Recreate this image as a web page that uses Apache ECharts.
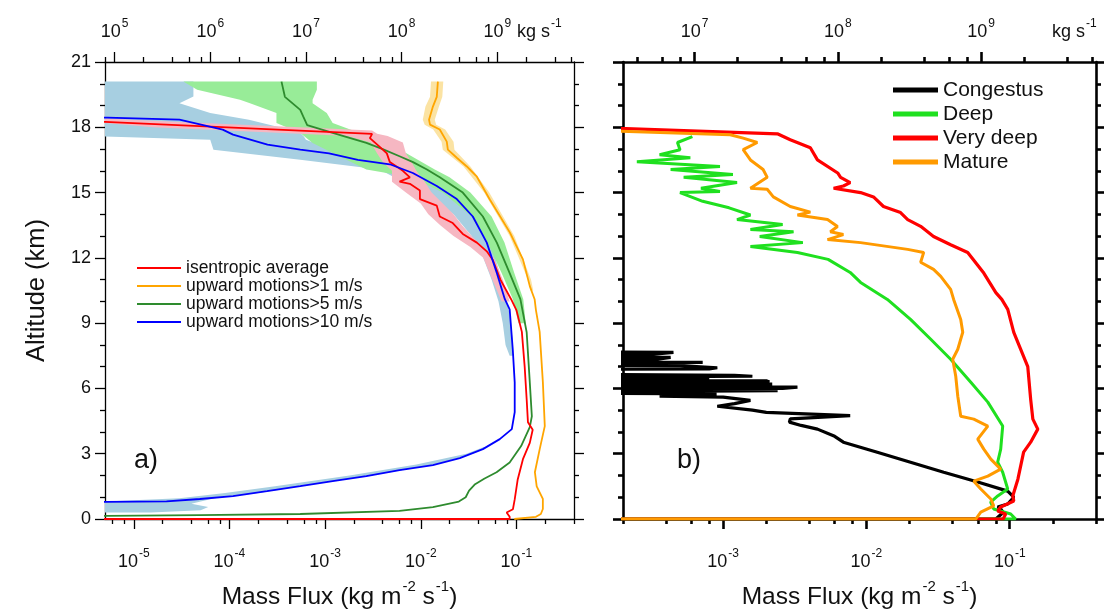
<!DOCTYPE html>
<html><head><meta charset="utf-8">
<script src="https://cdn.jsdelivr.net/npm/echarts@6/dist/echarts.min.js"></script>
<style>html,body{margin:0;padding:0;background:#fff}#c{width:1104px;height:615px}</style>
</head><body><div id="c"></div>
<script>
// ---------- DATA : [altitude km, mass flux kg m^-2 s^-1] ----------
const A_RED = [[0,1e-9],[0,0.085],[0.1,0.085],[0.3,0.079],[0.45,0.092],[0.9,0.096],[1.8,0.103],[2.75,0.117],[3.5,0.138],[4.1,0.148],[4.45,0.132],[5.5,0.128],[7.0,0.122],[8.6,0.114],[9.6,0.1],[10.1,0.088],[11.0,0.068],[11.9,0.0567],[12.3,0.049],[12.7,0.0386],[13.1,0.0275],[13.6,0.0216],[13.9,0.0158],[14.4,0.0147],[14.7,0.0098],[15.1,0.0098],[15.4,0.0077],[15.5,0.006],[15.7,0.0077],[16.0,0.0065],[16.4,0.00475],[16.8,0.00442],[17.1,0.00373],[17.5,0.00294],[17.7,0.0031],[18.25,5e-6],[18.35,1e-6]];
const A_ORANGE = [[0,0.095],[0.1,0.16],[0.23,0.18],[0.46,0.189],[0.92,0.189],[1.5,0.163],[2.15,0.156],[3.2,0.175],[4.27,0.198],[6.3,0.189],[8.6,0.175],[9.6,0.16],[10.1,0.155],[10.7,0.138],[11.93,0.117],[13.17,0.0853],[14.68,0.0527],[15.73,0.0386],[16.06,0.0326],[16.2,0.0303],[16.6,0.0238],[16.97,0.0192],[17.34,0.0187],[17.9,0.0158],[18.12,0.0125],[18.35,0.0122],[18.95,0.0134],[19.4,0.0147],[20.1,0.0151]];
const A_GREEN = [[0.1,1e-7],[0.14,5.2e-6],[0.18,4.9e-5],[0.23,5.5e-4],[0.37,6.0e-3],[0.55,0.0134],[0.8,0.025],[1.0,0.0295],[1.3,0.032],[1.6,0.037],[1.85,0.046],[2.15,0.062],[2.6,0.085],[3.35,0.112],[4.22,0.138],[4.72,0.145],[6.28,0.138],[8.58,0.128],[10.1,0.11],[11.3,0.085],[12.7,0.0624],[13.9,0.0446],[15.0,0.0275],[15.7,0.0158],[16.06,0.0116],[16.4,0.0083],[16.67,0.006],[17.0,0.004],[17.28,0.0027],[17.74,0.0012],[18.1,6.5e-4],[18.5,5.9e-4],[18.8,5.5e-4],[19.4,3.8e-4],[20.1,3.5e-4]];
const A_BLUE = [[0.76,1e-6],[0.79,5.2e-6],[0.81,2.2e-5],[0.92,4.9e-5],[1.05,1.09e-4],[1.28,2.47e-4],[1.51,5.5e-4],[1.74,1.2e-3],[1.97,2.7e-3],[2.25,6.0e-3],[2.48,0.0134],[2.8,0.0256],[3.21,0.0446],[3.67,0.067],[4.13,0.0895],[4.91,0.096],[6.28,0.096],[7.8,0.0916],[9.63,0.085],[10.1,0.0757],[11.3,0.0624],[12.7,0.049],[13.9,0.035],[14.7,0.0238],[15.3,0.0147],[15.9,0.00826],[16.3,0.00475],[16.5,0.0022],[16.8,0.0011],[16.97,5.5e-4],[17.2,2.5e-4],[17.66,1.09e-4],[17.89,8.5e-5],[18.35,3.0e-5],[18.44,5.3e-6],[18.5,1e-6]];

// spread bands : [altitude km, low flux, high flux]
const A_BAND_BLUE = [[0.3,1e-7,1.5e-5],[0.4,1e-7,5e-5],[0.55,1e-7,6e-5],[0.7,1e-7,4e-5],[0.8,1e-7,5e-5],[0.95,3e-5,7e-5],[1.2,9e-5,2e-4],[1.5,3e-4,5.5e-4],[2.0,1.8e-3,3e-3],[2.5,0.009,0.014],[3.0,0.03,0.035],[3.3,0.045,0.05]];
const A_BAND_BLUE_UP = [[7.5,0.085,0.092],[8.0,0.077,0.092],[9.0,0.072,0.088],[10.0,0.065,0.08],[11.0,0.055,0.07],[12.0,0.045,0.06],[13.0,0.034,0.05],[14.0,0.022,0.037],[15.0,0.011,0.023],[15.5,0.0065,0.016],[16.06,0.0037,0.009],[16.51,5.5e-4,3.5e-3],[16.97,6.8e-5,1.2e-3],[17.43,6.3e-5,6.3e-4],[17.58,1e-7,6.0e-4],[17.74,1e-7,5.5e-4],[18.04,1e-7,3.1e-4],[18.35,1e-7,1.6e-4],[18.66,1e-7,6.3e-5],[19.11,1e-7,3.0e-5],[19.42,1e-7,4.2e-5],[20.1,1e-7,4.2e-5]];
const A_BAND_GREEN = [[9.0,0.105,0.125],[10.1,0.092,0.118],[11.3,0.07,0.095],[12.7,0.05,0.075],[13.9,0.034,0.055],[15.0,0.017,0.033],[15.7,0.008,0.02],[16.06,2.7e-3,0.014],[16.82,1.2e-3,7e-3],[17.28,7.4e-4,3.7e-3],[17.74,5.5e-4,2.3e-3],[18.2,3.1e-4,1.2e-3],[18.66,3.1e-4,1.04e-3],[19.11,1.64e-4,7.4e-4],[19.27,1.29e-4,7.4e-4],[19.72,4.6e-5,8.2e-4],[20.1,3.3e-5,8.2e-4]];
const A_BAND_PINK = [[10.0,0.07,0.085],[11.0,0.056,0.072],[12.0,0.045,0.058],[12.5,0.033,0.045],[13.0,0.022,0.034],[13.5,0.016,0.027],[14.0,0.012,0.022],[14.5,0.01,0.017],[15.0,0.007,0.013],[15.5,0.005,0.011],[16.0,0.005,0.009],[16.4,0.004,0.008],[16.8,0.0035,0.007],[17.3,0.003,0.0065],[17.6,1.7e-3,4.5e-3],[17.7,5.4e-4,3.5e-3],[17.85,9.3e-5,3.1e-3],[18.0,1.6e-5,5.4e-4],[18.2,1e-7,5.2e-5],[18.4,1e-7,5e-6]];
const A_BAND_ORANGE = [[10.5,0.14,0.15],[11.0,0.132,0.142],[13.0,0.085,0.095],[15.0,0.046,0.052],[16.2,0.028,0.033],[16.97,0.017,0.0225],[17.34,0.0165,0.022],[17.9,0.0135,0.018],[18.12,0.011,0.0145],[18.35,0.0105,0.014],[18.95,0.0112,0.0155],[19.4,0.0125,0.0168],[20.1,0.0128,0.0172]];

const B_CONGESTUS = [[0,1e-9],[0,0.08],[0.3,0.09],[0.46,0.0865],[0.55,0.0824],[0.69,0.0968],[1.0,0.1067],[1.28,0.0968],[1.7,0.0598],[2.15,0.0346],[2.61,0.0203],[3.07,0.0119],[3.53,0.0069],[3.8,0.006],[4.13,0.00455],[4.3,0.0035],[4.45,0.0029],[4.6,0.00294],[4.75,0.0077],[4.9,0.002],[5.0,0.0016],[5.18,0.00091],[5.3,0.0012],[5.45,0.00155],[5.6,0.001],[5.64,0.00036],[5.75,0.0009],[5.8,1e-5],[5.9,0.0024],[5.95,1e-5],[6.0,0.0026],[6.06,0.0033],[6.1,1e-5],[6.15,0.0012],[6.2,0.0022],[6.25,1e-5],[6.3,0.0021],[6.35,0.002],[6.4,1e-5],[6.42,0.0008],[6.5,1e-5],[6.56,0.0016],[6.6,0.0012],[6.7,1e-5],[6.85,1e-5],[6.9,0.0008],[6.95,0.00091],[7.05,0.0005],[7.1,1e-5],[7.2,0.00072],[7.25,1e-5],[7.35,0.00035],[7.43,0.00043],[7.5,1e-5],[7.55,0.0003],[7.66,0.00045],[7.7,1e-5]];
const B_DEEP = [[0,1e-9],[0,0.11],[0.09,0.11],[0.23,0.1016],[0.46,0.0773],[0.78,0.0736],[1.06,0.0824],[1.38,0.0968],[2.15,0.0893],[2.61,0.0824],[3.21,0.0865],[4.27,0.0893],[5.37,0.0703],[6.28,0.0535],[7.34,0.0387],[8.26,0.0281],[9.17,0.0203],[10.09,0.014],[10.87,0.0091],[11.33,0.0077],[11.93,0.0054],[12.25,0.0033],[12.52,0.00155],[12.7,0.0036],[12.98,0.0018],[13.2,0.0031],[13.3,0.00155],[13.53,0.0026],[13.76,0.00125],[13.97,0.00155],[14.3,0.0011],[14.6,0.00072],[15.0,0.0005],[15.05,0.00095],[15.2,0.0007],[15.46,0.00125],[15.7,0.00053],[15.83,0.00117],[16.06,0.00043],[16.2,0.00095],[16.42,0.00025],[16.6,0.00059],[16.74,0.00036],[16.97,0.0005],[17.3,0.00048],[17.57,0.00061]];
const B_VERYDEEP = [[0,1e-9],[0,0.09],[0.05,0.0905],[0.23,0.0937],[0.37,0.0824],[0.55,0.0865],[0.83,0.1067],[1.06,0.105],[1.83,0.114],[3.07,0.125],[3.53,0.14],[4.13,0.157],[4.59,0.145],[5.5,0.14],[7.0,0.1336],[8.58,0.1067],[9.63,0.0969],[10.09,0.088],[10.4,0.08],[11.3,0.0659],[12.25,0.0509],[12.6,0.0387],[12.98,0.0294],[13.45,0.0239],[13.76,0.0194],[14.08,0.0173],[14.36,0.01315],[14.8,0.0112],[15.0,0.0091],[15.2,0.0059],[15.3,0.0069],[15.46,0.0077],[15.7,0.0066],[15.9,0.0063],[16.5,0.00455],[17.06,0.00406],[17.43,0.00294],[17.7,0.00239],[17.94,2.1e-4],[18.0,1e-5]];
const B_MATURE = [[0,1e-9],[0,0.058],[0.09,0.0598],[0.32,0.0628],[0.6,0.0773],[0.92,0.0738],[1.38,0.0628],[1.74,0.0561],[1.97,0.0703],[2.29,0.0865],[2.75,0.0738],[3.21,0.0659],[3.67,0.0598],[4.27,0.0703],[4.59,0.0561],[4.72,0.0455],[5.64,0.0434],[6.56,0.042],[7.34,0.04],[7.8,0.0434],[8.58,0.047],[9.17,0.0455],[10.09,0.0406],[10.55,0.0387],[11.15,0.033],[11.47,0.0294],[11.8,0.0239],[12.25,0.0251],[12.39,0.0194],[12.7,0.0091],[12.84,0.00535],[13.07,0.0069],[13.2,0.0056],[13.44,0.00628],[13.76,0.00535],[13.97,0.0033],[14.1,0.00406],[14.36,0.00294],[14.8,0.00224],[15.15,0.00203],[15.2,0.00155],[15.7,0.00203],[16.06,0.0019],[16.5,0.00155],[16.97,0.00138],[17.3,0.00173],[17.5,0.00138],[17.66,0.00112],[17.82,1.9e-4],[17.9,1e-5]];

// ---------- AXES / TICK LABELS ----------
const A_RANGE = [5e-6, 0.4];
const B_RANGE = [2e-4, 0.4];
const TOP_SHIFT = 10.2;            // decades between kg m^-2 s^-1 and kg s^-1 scales
const A_BOTTOM_DECADES = [-5,-4,-3,-2,-1];
const A_TOP_DECADES = [5,6,7,8,9];
const B_BOTTOM_DECADES = [-3,-2,-1];
const B_TOP_DECADES = [7,8,9];
const MINOR_MULTIPLIERS = [2,4,6,8];
const ALT_MIN = 0, ALT_MAX = 21, ALT_STEP = 3;

const NAMES_A = ['isentropic average','upward motions>1 m/s','upward motions>5 m/s','upward motions>10 m/s'];
const NAMES_B = ['Congestus','Deep','Very deep','Mature'];

// ---------- BUILD ----------
const FONT = '"Liberation Sans", Arial, Helvetica, sans-serif';
const INK = '#111';
const L = Math.log10;

function minors(min, max) {
  const out = [];
  for (let n = Math.floor(min) - 1; n <= Math.ceil(max); n++) {
    MINOR_MULTIPLIERS.forEach(k => { const v = n + L(k); if (v >= min - 1e-6 && v <= max + 1e-6) out.push(v); });
  }
  return out;
}
const richLab = {
  b: {fontSize: 18, fontFamily: FONT, color: INK, lineHeight: 23, verticalAlign: 'bottom'},
  s: {fontSize: 12, fontFamily: FONT, color: INK, lineHeight: 12, verticalAlign: 'top', padding: [0,0,0,1]}
};
const expFmt = v => '{b|10}{s|' + Math.round(v) + '}';

function xAxisPair(grid, min, max, decades, pos, lw, margin, name) {
  const major = {
    type: 'value', gridIndex: grid, position: pos, min: min, max: max,
    axisLine: {show: true, onZero: false, lineStyle: {color: '#000', width: lw}},
    axisTick: {show: true, inside: false, length: 10, customValues: decades, lineStyle: {color: '#000', width: lw}},
    axisLabel: {show: true, customValues: decades, margin: margin, formatter: expFmt, rich: richLab},
    splitLine: {show: false}
  };
  if (name) {
    major.name = '{t|Mass Flux (kg m}{s|-2}{t| s}{s|-1}{t|)}';
    major.nameLocation = 'middle';
    major.nameGap = 60;
    major.nameTextStyle = {rich: {
      t: {fontSize: 24.5, fontFamily: FONT, color: INK, lineHeight: 31, verticalAlign: 'bottom'},
      s: {fontSize: 15, fontFamily: FONT, color: INK, lineHeight: 15, verticalAlign: 'top', padding: [0,0,0,1]}
    }};
  }
  const minor = {
    type: 'value', gridIndex: grid, position: pos, min: min, max: max,
    axisLine: {show: false, onZero: false},
    axisTick: {show: true, inside: false, length: 5, customValues: minors(min, max), lineStyle: {color: '#000', width: lw}},
    axisLabel: {show: false}, splitLine: {show: false}
  };
  return [major, minor];
}
function yAxis(grid, pos, lw, labels) {
  const ax = {
    type: 'value', gridIndex: grid, position: pos, min: ALT_MIN, max: ALT_MAX, interval: ALT_STEP,
    axisLine: {show: true, onZero: false, lineStyle: {color: '#000', width: lw}},
    axisTick: {show: true, inside: false, length: 10, lineStyle: {color: '#000', width: lw}},
    minorTick: {show: true, splitNumber: 3, length: 5, lineStyle: {color: '#000', width: lw}},
    axisLabel: {show: labels, margin: 14, fontSize: 18, fontFamily: FONT, color: INK},
    splitLine: {show: false}
  };
  if (labels) {
    ax.name = 'Altitude (km)'; ax.nameLocation = 'middle'; ax.nameGap = 55;
    ax.nameTextStyle = {fontSize: 25.5, fontFamily: FONT, color: INK};
  }
  return ax;
}

const aMin = L(A_RANGE[0]), aMax = L(A_RANGE[1]);
const bMin = L(B_RANGE[0]), bMax = L(B_RANGE[1]);
const xAxes = [].concat(
  xAxisPair(0, aMin, aMax, A_BOTTOM_DECADES, 'bottom', 1.3, 29, true),
  xAxisPair(0, aMin + TOP_SHIFT, aMax + TOP_SHIFT, A_TOP_DECADES, 'top', 1.3, 21, false),
  xAxisPair(1, bMin, bMax, B_BOTTOM_DECADES, 'bottom', 2.6, 29, true),
  xAxisPair(1, bMin + TOP_SHIFT, bMax + TOP_SHIFT, B_TOP_DECADES, 'top', 2.6, 21, false)
);
const yAxes = [yAxis(0, 'left', 1.3, true), yAxis(0, 'right', 1.3, false), yAxis(1, 'left', 2.6, false), yAxis(1, 'right', 2.6, false)];

function toXY(arr) { return arr.map(p => [L(p[1]), p[0]]); }
function lineSeries(name, arr, color, width, xi, yi) {
  return {name: name, type: 'line', xAxisIndex: xi, yAxisIndex: yi, data: toXY(arr),
    showSymbol: false, symbol: 'none', clip: true, z: 3, color: color,
    lineStyle: {color: color, width: width}, itemStyle: {color: color}, animation: false};
}
function bandSeries(rows, color, xi, yi, min, max) {
  const cl = v => Math.min(max, Math.max(min, L(v)));
  return {type: 'custom', xAxisIndex: xi, yAxisIndex: yi, silent: true, clip: true, z: 1, animation: false,
    data: [[L(rows[0][2]), rows[0][0]]],
    renderItem: function (params, api) {
      const pts = [];
      rows.forEach(r => pts.push(api.coord([cl(r[2]), r[0]])));
      rows.slice().reverse().forEach(r => pts.push(api.coord([cl(r[1]), r[0]])));
      return {type: 'polygon', shape: {points: pts}, style: {fill: color}};
    }};
}

const series = [
  bandSeries(A_BAND_BLUE, '#a7cfe1', 0, 0, aMin, aMax),
  bandSeries(A_BAND_BLUE_UP, '#a7cfe1', 0, 0, aMin, aMax),
  bandSeries(A_BAND_GREEN, '#98ec98', 0, 0, aMin, aMax),
  bandSeries(A_BAND_PINK, '#f6b7c2', 0, 0, aMin, aMax),
  bandSeries(A_BAND_ORANGE, '#fbe3a3', 0, 0, aMin, aMax),
  lineSeries(NAMES_A[1], A_ORANGE, '#ffa500', 1.8, 0, 0),
  lineSeries(NAMES_A[2], A_GREEN, '#2e8b2e', 1.8, 0, 0),
  lineSeries(NAMES_A[0], A_RED, '#ff0000', 1.8, 0, 0),
  lineSeries(NAMES_A[3], A_BLUE, '#0000ff', 1.8, 0, 0),
  lineSeries(NAMES_B[0], B_CONGESTUS, '#000000', 3.2, 4, 2),
  lineSeries(NAMES_B[1], B_DEEP, '#1fe01f', 3, 4, 2),
  lineSeries(NAMES_B[2], B_VERYDEEP, '#ff0000', 3.2, 4, 2),
  lineSeries(NAMES_B[3], B_MATURE, '#ff9a00', 3, 4, 2)
];

const richUnit = {
  b: {fontSize: 18, fontFamily: FONT, fill: INK, lineHeight: 23, verticalAlign: 'bottom'},
  s: {fontSize: 12, fontFamily: FONT, fill: INK, lineHeight: 12, verticalAlign: 'top', padding: [0,0,0,1]}
};

const chart = echarts.init(document.getElementById('c'), null, {renderer: 'canvas'});
chart.setOption({
  backgroundColor: '#ffffff',
  animation: false,
  grid: [
    {left: 105, top: 62, width: 469, height: 458, containLabel: false},
    {left: 623, top: 62, width: 473, height: 458, containLabel: false}
  ],
  xAxis: xAxes,
  yAxis: yAxes,
  legend: [
    {data: NAMES_A, orient: 'vertical', left: 137, top: 259, padding: 0, icon: 'rect', itemWidth: 44, itemHeight: 2, itemGap: 0,
      selectedMode: false, textStyle: {fontSize: 17.5, lineHeight: 16.4, fontFamily: FONT, color: INK}},
    {data: NAMES_B, orient: 'vertical', left: 893, top: 78, padding: 0, icon: 'rect', itemWidth: 45, itemHeight: 5, itemGap: 0,
      selectedMode: false, textStyle: {fontSize: 21, lineHeight: 24, fontFamily: FONT, color: INK}}
  ],
  graphic: [
    {type: 'text', left: 517, top: 18, style: {text: '{b|kg s}{s|-1}', rich: richUnit}},
    {type: 'text', left: 1052, top: 18, style: {text: '{b|kg s}{s|-1}', rich: richUnit}},
    {type: 'text', left: 134, top: 447, style: {text: 'a)', font: '27px ' + FONT, fill: INK}},
    {type: 'text', left: 677, top: 447, style: {text: 'b)', font: '27px ' + FONT, fill: INK}}
  ],
  series: series
});
</script></body></html>
